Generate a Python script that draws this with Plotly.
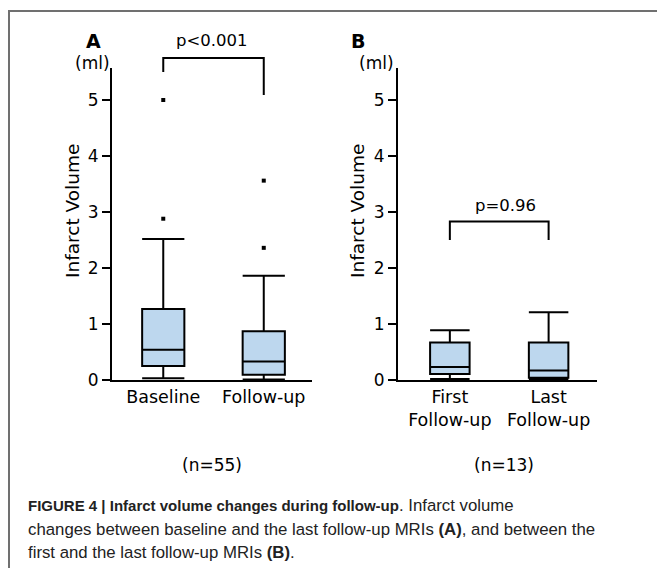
import plotly.graph_objects as go

W, H = 657, 568
FIG_H = 578  # page height used for the figure; layout positions are fractions of H

# ---- data ----
cats_a = ["Baseline", "Follow-up"]
q1_a = [0.25, 0.095]
med_a = [0.54, 0.33]
q3_a = [1.27, 0.87]
lo_a = [0.03, 0.01]
hi_a = [2.52, 1.86]
out_a_x = ["Baseline", "Baseline", "Follow-up", "Follow-up"]
out_a_y = [2.88, 5.0, 2.36, 3.56]

cats_b = ["First", "Last"]
ticktext_b = ["First<br>Follow-up", "Last<br>Follow-up"]
q1_b = [0.107, 0.04]
med_b = [0.23, 0.17]
q3_b = [0.67, 0.67]
lo_b = [0.02, 0.01]
hi_b = [0.89, 1.21]

yticks = [0, 1, 2, 3, 4, 5]

FONT = "DejaVu Sans, Liberation Sans, Arial, sans-serif"
CAPFONT = "Liberation Sans, Arial, sans-serif"
FILL = "#bdd7ee"


def px(x):
    return x / W


def py(y):
    return 1 - y / H


fig = go.Figure()

fig.add_trace(go.Box(
    x=cats_a, q1=q1_a, median=med_a, q3=q3_a, lowerfence=lo_a, upperfence=hi_a,
    width=0.42, whiskerwidth=1, fillcolor=FILL, line=dict(color="black", width=2),
    boxpoints=False, xaxis="x", yaxis="y", showlegend=False))
fig.add_trace(go.Scatter(
    x=out_a_x, y=out_a_y, mode="markers",
    marker=dict(symbol="square", size=4, color="black"),
    xaxis="x", yaxis="y", showlegend=False))
fig.add_trace(go.Box(
    x=cats_b, q1=q1_b, median=med_b, q3=q3_b, lowerfence=lo_b, upperfence=hi_b,
    width=0.40, whiskerwidth=1, fillcolor=FILL, line=dict(color="black", width=2),
    boxpoints=False, xaxis="x2", yaxis="y2", showlegend=False))

ymax = (380 - 68) / 56.0
ydom = [py(380), py(68)]

common_y = dict(range=[0, ymax], tickvals=yticks, ticks="outside", ticklen=8, tickwidth=2,
                tickcolor="black", showline=True, linecolor="black", linewidth=2,
                showgrid=False, zeroline=False, tickfont=dict(size=17, color="black", family=FONT),
                fixedrange=True)
common_x = dict(type="category", showline=True, linecolor="black", linewidth=2, ticks="",
                showgrid=False, zeroline=False, tickfont=dict(size=17.5, color="black", family=FONT))

fig.update_layout(
    width=W, height=FIG_H, margin=dict(l=0, r=0, t=0, b=0), autosize=False,
    paper_bgcolor="white", plot_bgcolor="white",
    font=dict(family=FONT, color="black"),
    xaxis=dict(domain=[px(112), px(312)], range=[-0.51, 1.48], anchor="y",
               categoryorder="array", categoryarray=cats_a, **common_x),
    yaxis=dict(domain=ydom, anchor="x", **common_y),
    xaxis2=dict(domain=[px(398), px(597)], range=[-0.525, 1.49], anchor="y2",
                categoryorder="array", categoryarray=cats_b,
                tickvals=cats_b, ticktext=ticktext_b, **common_x),
    yaxis2=dict(domain=ydom, anchor="x2", **common_y),
)

shapes = []
# figure frame (top + left)
shapes.append(dict(type="line", xref="paper", yref="paper", x0=px(9), x1=1, y0=py(11), y1=py(11),
                   line=dict(color="#707070", width=2)))
shapes.append(dict(type="line", xref="paper", yref="paper", x0=px(9), x1=px(9), y0=py(10), y1=0,
                   line=dict(color="#707070", width=2)))
# bracket A
shapes.append(dict(type="path", xref="x", yref="paper",
                   path=f"M 0,{py(72)} L 0,{py(58)} L 1,{py(58)} L 1,{py(95)}",
                   line=dict(color="black", width=2)))
# bracket B
shapes.append(dict(type="path", xref="x2", yref="y2",
                   path="M 0,2.5 L 0,2.83 L 1,2.83 L 1,2.5",
                   line=dict(color="black", width=2)))
fig.update_layout(shapes=shapes)

ann = []


def add(text, x, y, size=17, bold=False, xanchor="center", angle=0, color="black", family=FONT):
    ann.append(dict(text=f"<b>{text}</b>" if bold else text, x=px(x), y=py(y), xref="paper",
                    yref="paper", showarrow=False, xanchor=xanchor, yanchor="middle",
                    textangle=angle, font=dict(size=size, family=family, color=color)))


add("A", 93, 41, size=19, bold=True)
add("B", 358, 41, size=19, bold=True)
add("p<0.001", 212, 41, size=16.5)
add("p=0.96", 505, 205, size=16.5)
add("(ml)", 92, 63, size=17)
add("(ml)", 376, 63, size=17)
add("Infarct Volume", 72, 211, size=18.5, angle=-90)
add("Infarct Volume", 357, 211, size=18.5, angle=-90)
add("(n=55)", 212, 465, size=17)
add("(n=13)", 504, 465, size=17)

cap_lines = [
    "<b><span style=\"font-size:15px\">FIGURE 4 | Infarct volume changes during follow-up</span></b>. Infarct volume",
    "changes between baseline and the last follow-up MRIs <b>(A)</b>, and between the",
    "first and the last follow-up MRIs <b>(B)</b>.",
]
for i, t in enumerate(cap_lines):
    ann.append(dict(text=t, x=px(26), y=py([505, 529, 552][i]), xref="paper", yref="paper",
                    showarrow=False, xanchor="left", yanchor="middle",
                    font=dict(size=16.8, family=CAPFONT, color="#222222")))

fig.update_layout(annotations=ann)

fig.write_html(
    "out.html",
    config={"displayModeBar": False, "staticPlot": True},
    post_script=(
        "document.documentElement.style.margin='0';document.documentElement.style.padding='0';"
        "document.body.style.margin='0';document.body.style.padding='0';"
        "document.body.style.overflow='hidden';"
    ),
)
